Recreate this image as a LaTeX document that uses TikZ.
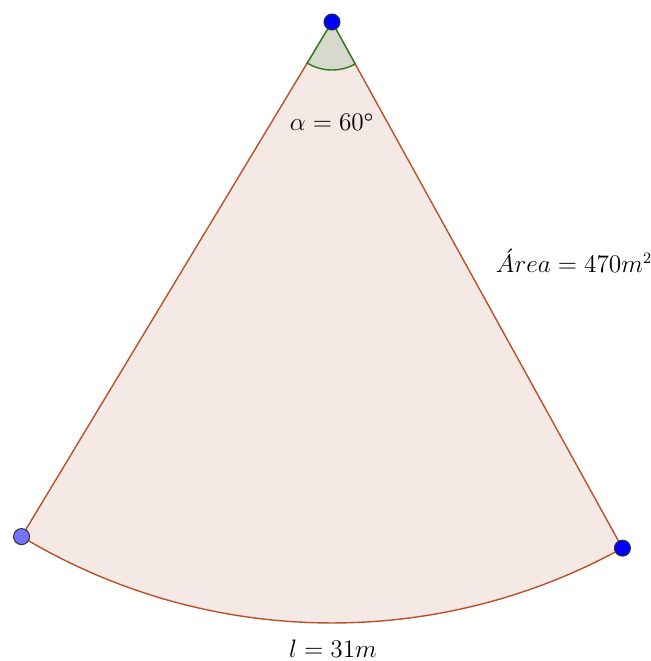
\documentclass[tikz,border=0pt]{standalone}
\usepackage{amsmath}
\usetikzlibrary{positioning,calc}
\definecolor{sectorfill}{RGB}{245,233,229}
\definecolor{sectoredge}{RGB}{185,82,40}
\definecolor{anglefill}{RGB}{214,217,203}
\definecolor{angleedge}{RGB}{46,120,30}
\definecolor{lightblue}{RGB}{115,115,255}
\tikzset{
  pt/.style={circle, draw=black!80, line width=0.6pt, inner sep=0pt, minimum size=0.32cm},
  lbl/.style={font=\fontsize{13.5}{16}\selectfont}
}
\begin{document}
\begin{tikzpicture}
    \useasboundingbox (0,0) rectangle (13.02,13.22);

    \coordinate (O) at (6.64,12.78);
    \coordinate (A) at ($(O)+(238.9:12.02)$);
    \coordinate (B) at ($(O)+(298.9:12.02)$);

%   sector
    \fill[sectorfill] (O) -- (A) arc[start angle=238.9, end angle=298.9, radius=12.02] -- cycle;
    \draw[sectoredge, line width=0.8pt] (O) -- (A) arc[start angle=238.9, end angle=298.9, radius=12.02] -- cycle;

%   angle
    \fill[anglefill] (O) -- ($(O)+(238.9:0.96)$) arc[start angle=238.9, end angle=298.9, radius=0.96] -- cycle;
    \draw[angleedge, line width=0.8pt] (O) -- ($(O)+(238.9:0.96)$) arc[start angle=238.9, end angle=298.9, radius=0.96] -- cycle;

    \node[pt, fill=blue] (top) at (O) {};
    \node[pt, fill=lightblue] (left) at (A) {};
    \node[pt, fill=blue] (right) at (B) {};

    \node[lbl] (alpha) at (6.64,10.78) {$\alpha = 60^{\boldsymbol{\circ}}$};
    \node[lbl] (area) at (11.48,8.0) {$\acute{A}rea = 470m^2$};
    \node[lbl] (len) at (6.66,0.25) {$l = 31m$};

\end{tikzpicture}
\end{document}
